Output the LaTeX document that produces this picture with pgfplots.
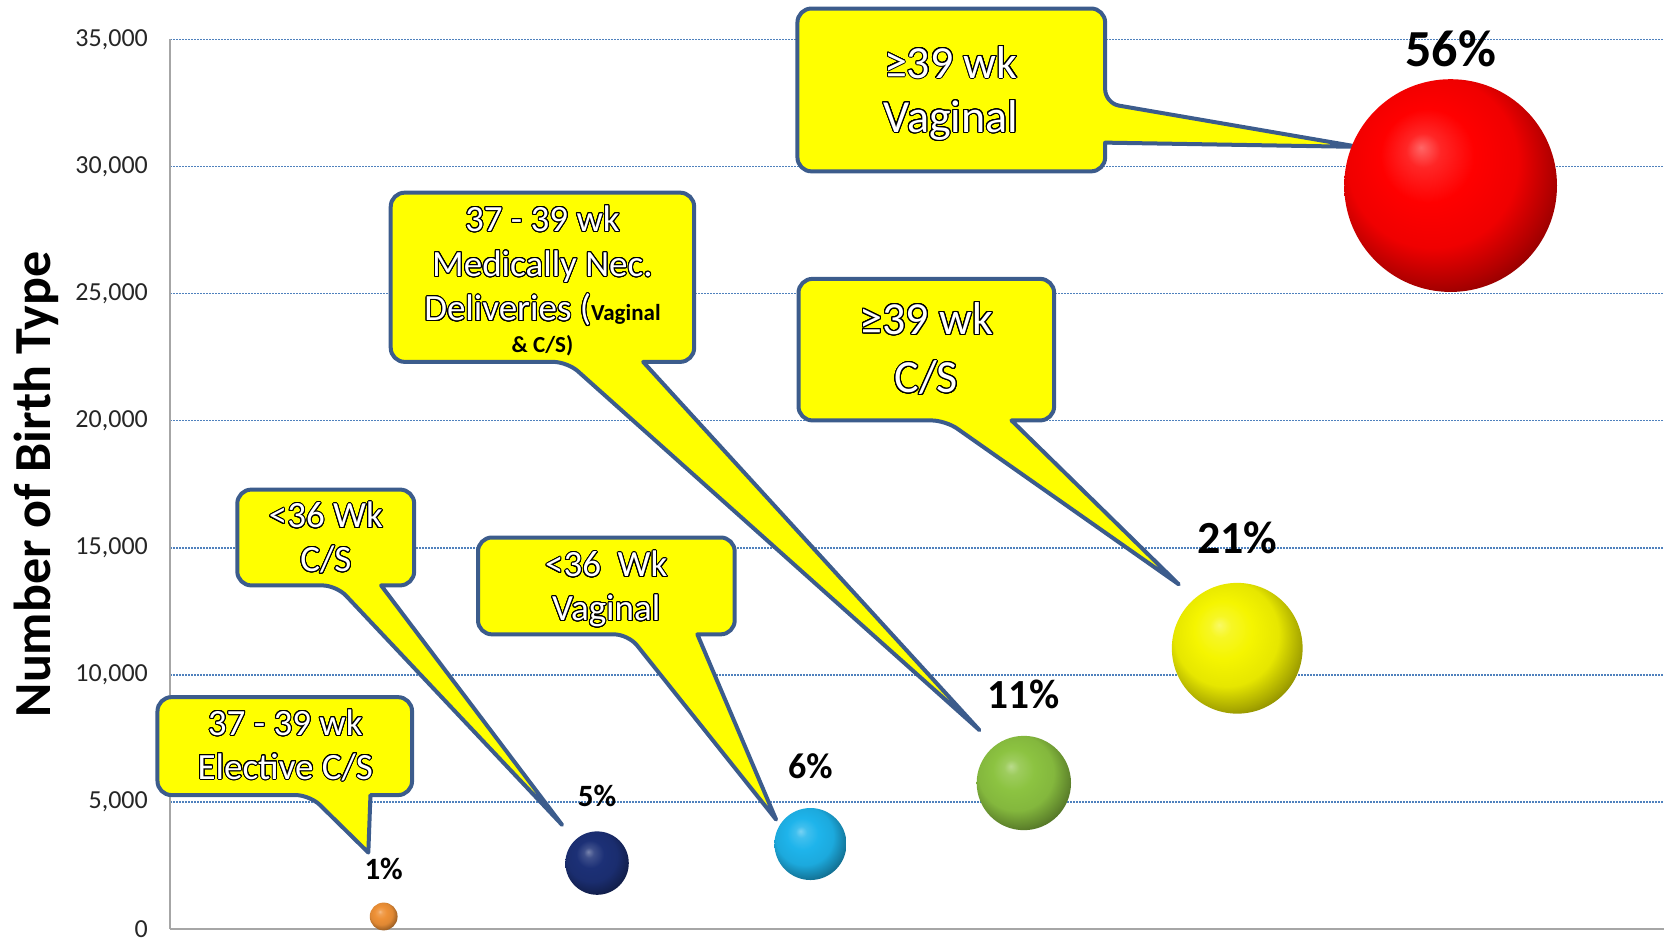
\documentclass[border=0pt]{standalone}
\usepackage{pgfplots}
\pgfplotsset{compat=1.18}
\usepackage{fontspec}
\setmainfont{Carlito}
\usepackage{contour}
\contourlength{0.5pt}
\contournumber{24}

\definecolor{gridblue}{RGB}{79,129,189}
\definecolor{calloutedge}{RGB}{60,92,140}
\definecolor{calloutfill}{RGB}{255,255,0}
\definecolor{ballorange}{RGB}{238,145,55}
\definecolor{ballnavy}{RGB}{28,48,118}
\definecolor{ballcyan}{RGB}{30,180,235}
\definecolor{ballgreen}{RGB}{140,195,65}
\definecolor{ballyellow}{RGB}{245,245,0}
\definecolor{ballred}{RGB}{255,0,0}

% glossy sphere (the ball itself spans the inner 25bp radius of the shading):
% soft highlight up-left, darker towards the lower right rim
\newcommand{\sphere}[1]{%
  \pgfdeclareradialshading{sphere#1}{\pgfqpoint{-7bp}{9bp}}{%
    color(0bp)=(#1!60!white); color(4bp)=(#1!85!white); color(11bp)=(#1);
    color(20bp)=(#1!94!black); color(27bp)=(#1!70!black); color(35bp)=(#1!40!black);
    color(50bp)=(#1!40!black)}}
\sphere{ballorange}\sphere{ballnavy}\sphere{ballcyan}
\sphere{ballgreen}\sphere{ballyellow}\sphere{ballred}

\newcommand{\fs}[2]{\fontsize{#1}{#2}\selectfont}
% white letters with a thin black outline
\newcommand{\ol}[1]{\textcolor{white}{\contour{black}{#1}}}

\tikzset{
  callout/.style={fill=calloutfill, draw=calloutedge, line width=2pt, line join=round},
  pct/.style={anchor=center, text=black, inner sep=0pt},
}
% bubble area proportional to the number of births
\pgfplotsset{
  bubble/.style 2 args={only marks, mark=none, nodes near coords={},
    every node near coord/.style={circle, shade, shading=sphere#1, draw=none, inner sep=0pt,
      minimum size={\fpeval{2*0.311*sqrt(#2)}pt}, anchor=center}},
}

\begin{document}
\begin{tikzpicture}
\begin{axis}[
  scale only axis, width=746.85pt, height=444.9pt,
  xmin=0, xmax=7, ymin=0, ymax=35000,
  clip=false,
  axis x line*=bottom, axis y line*=left,
  axis line style={draw=black!35, line width=1pt, -},
  xtick=\empty,
  ytick={0,5000,10000,15000,20000,25000,30000,35000},
  scaled y ticks=false,
  ymajorgrids,
  major grid style={draw=gridblue, line width=0.7pt, dash pattern=on 0.7pt off 0.8pt},
  major tick length=0pt,
  yticklabel style={font=\fs{13}{15}, text=black!85, inner ysep=0pt, xshift=-7.7pt},
  /pgf/number format/1000 sep={,},
  /pgf/number format/assume math mode=true,
  ylabel={Number of Birth Type},
  every axis y label/.style={at={(rel axis cs:0,0.5)}, xshift=-67pt, rotate=90,
    anchor=center, font=\bfseries\fs{26}{30}},
]
% births by type (x = group, y = number of births)
\addplot[bubble={ballorange}{500}]   coordinates {(1,500)};
\addplot[bubble={ballnavy}{2600}]    coordinates {(2,2600)};
\addplot[bubble={ballcyan}{3350}]    coordinates {(3,3350)};
\addplot[bubble={ballgreen}{5750}]   coordinates {(4,5750)};
\addplot[bubble={ballyellow}{11050}] coordinates {(5,11050)};
\addplot[bubble={ballred}{29250}]    coordinates {(6,29250)};

% share of all births
\node[pct, font=\bfseries\fs{15.5}{18}] at (axis cs:1,2386)  {1\%};
\node[pct, font=\bfseries\fs{15.5}{18}] at (axis cs:2,5233)  {5\%};
\node[pct, font=\bfseries\fs{18}{21}]   at (axis cs:3,6405)  {6\%};
\node[pct, font=\bfseries\fs{20.7}{24}] at (axis cs:4,9252)  {11\%};
\node[pct, font=\bfseries\fs{23}{27}]   at (axis cs:5,15407) {21\%};
\node[pct, font=\bfseries\fs{26}{30}]   at (axis cs:6,34623) {56\%};

% >=39 wk vaginal (pointer on the right side)
\draw[callout] (axis cs:5.569,30772) -- (axis cs:4.381,30939) [rounded corners=7pt]
  -- (axis cs:4.381,29809) -- (axis cs:2.939,29809) -- (axis cs:2.939,36214)
  -- (axis cs:4.381,36214) -- (axis cs:4.381,32488) [sharp corners] -- cycle;
\node[anchor=base, font=\fs{23}{27}] at (axis cs:3.658,33480) {\ol{≥39 wk}};
\node[anchor=base, font=\fs{23}{27}] at (axis cs:3.658,31350) {\ol{Vaginal}};

% >=39 wk C/S
\draw[callout] (axis cs:4.726,13565) -- (axis cs:3.942,20012) [rounded corners=7pt]
  -- (axis cs:4.142,20012) -- (axis cs:4.142,25580) -- (axis cs:2.944,25580)
  -- (axis cs:2.944,20012) -- (axis cs:3.633,20012) [sharp corners] -- cycle;
\node[anchor=base, font=\fs{23}{27}] at (axis cs:3.543,23400) {\ol{≥39 wk}};
\node[anchor=base, font=\fs{23}{27}] at (axis cs:3.543,21100) {\ol{C/S}};

% 37-39 wk medically necessary
\draw[callout] (axis cs:3.792,7829) -- (axis cs:2.216,22315) [rounded corners=7pt]
  -- (axis cs:2.455,22315) -- (axis cs:2.455,28971) -- (axis cs:1.033,28971)
  -- (axis cs:1.033,22315) -- (axis cs:1.861,22315) [sharp corners] -- cycle;
\node[anchor=base, font=\fs{18.5}{21}] at (axis cs:1.744,27450) {\ol{37 - 39 wk}};
\node[anchor=base, font=\fs{18.5}{21}] at (axis cs:1.744,25680) {\ol{Medically Nec.}};
\node[anchor=base, font=\fs{18.5}{21}] at (axis cs:1.744,23930)
  {\ol{Deliveries (}{\bfseries\fs{11.5}{13}Vaginal}};
\node[anchor=base, font=\bfseries\fs{11.5}{13}] at (axis cs:1.744,22691) {\& C/S)};

% <36 wk C/S
\draw[callout] (axis cs:1.836,4103) -- (axis cs:0.988,13523) [rounded corners=7pt]
  -- (axis cs:1.143,13523) -- (axis cs:1.143,17291) -- (axis cs:0.314,17291)
  -- (axis cs:0.314,13523) -- (axis cs:0.778,13523) [sharp corners] -- cycle;
\node[anchor=base, font=\fs{18.5}{21}] at (axis cs:0.729,15784) {\ol{<36 Wk}};
\node[anchor=base, font=\fs{18.5}{21}] at (axis cs:0.729,14067) {\ol{C/S}};

% <36 wk vaginal
\draw[callout] (axis cs:2.839,4312) -- (axis cs:2.470,11597) [rounded corners=7pt]
  -- (axis cs:2.645,11597) -- (axis cs:2.645,15407) -- (axis cs:1.442,15407)
  -- (axis cs:1.442,11597) -- (axis cs:2.146,11597) [sharp corners] -- cycle;
\node[anchor=base, font=\fs{18.5}{21}] at (axis cs:2.043,13858) {\ol{<36\hspace{0.45em}Wk}};
\node[anchor=base, font=\fs{18.5}{21}] at (axis cs:2.043,12141) {\ol{Vaginal}};

% 37-39 wk elective C/S
\draw[callout] (axis cs:0.928,3014) -- (axis cs:0.938,5275) [rounded corners=7pt]
  -- (axis cs:1.133,5275) -- (axis cs:1.133,9127) -- (axis cs:-0.060,9127)
  -- (axis cs:-0.060,5275) -- (axis cs:0.654,5275) [sharp corners] -- cycle;
\node[anchor=base, font=\fs{18.5}{21}] at (axis cs:0.539,7620) {\ol{37 - 39 wk}};
\node[anchor=base, font=\fs{18.5}{21}] at (axis cs:0.539,5903) {\ol{Elective C/S}};
\end{axis}
\pgfresetboundingbox
\path ([shift={(-85.15pt,-5.4pt)}]current axis.south west)
  rectangle ([shift={(2.5pt,19.7pt)}]current axis.north east);
\end{tikzpicture}
\end{document}
